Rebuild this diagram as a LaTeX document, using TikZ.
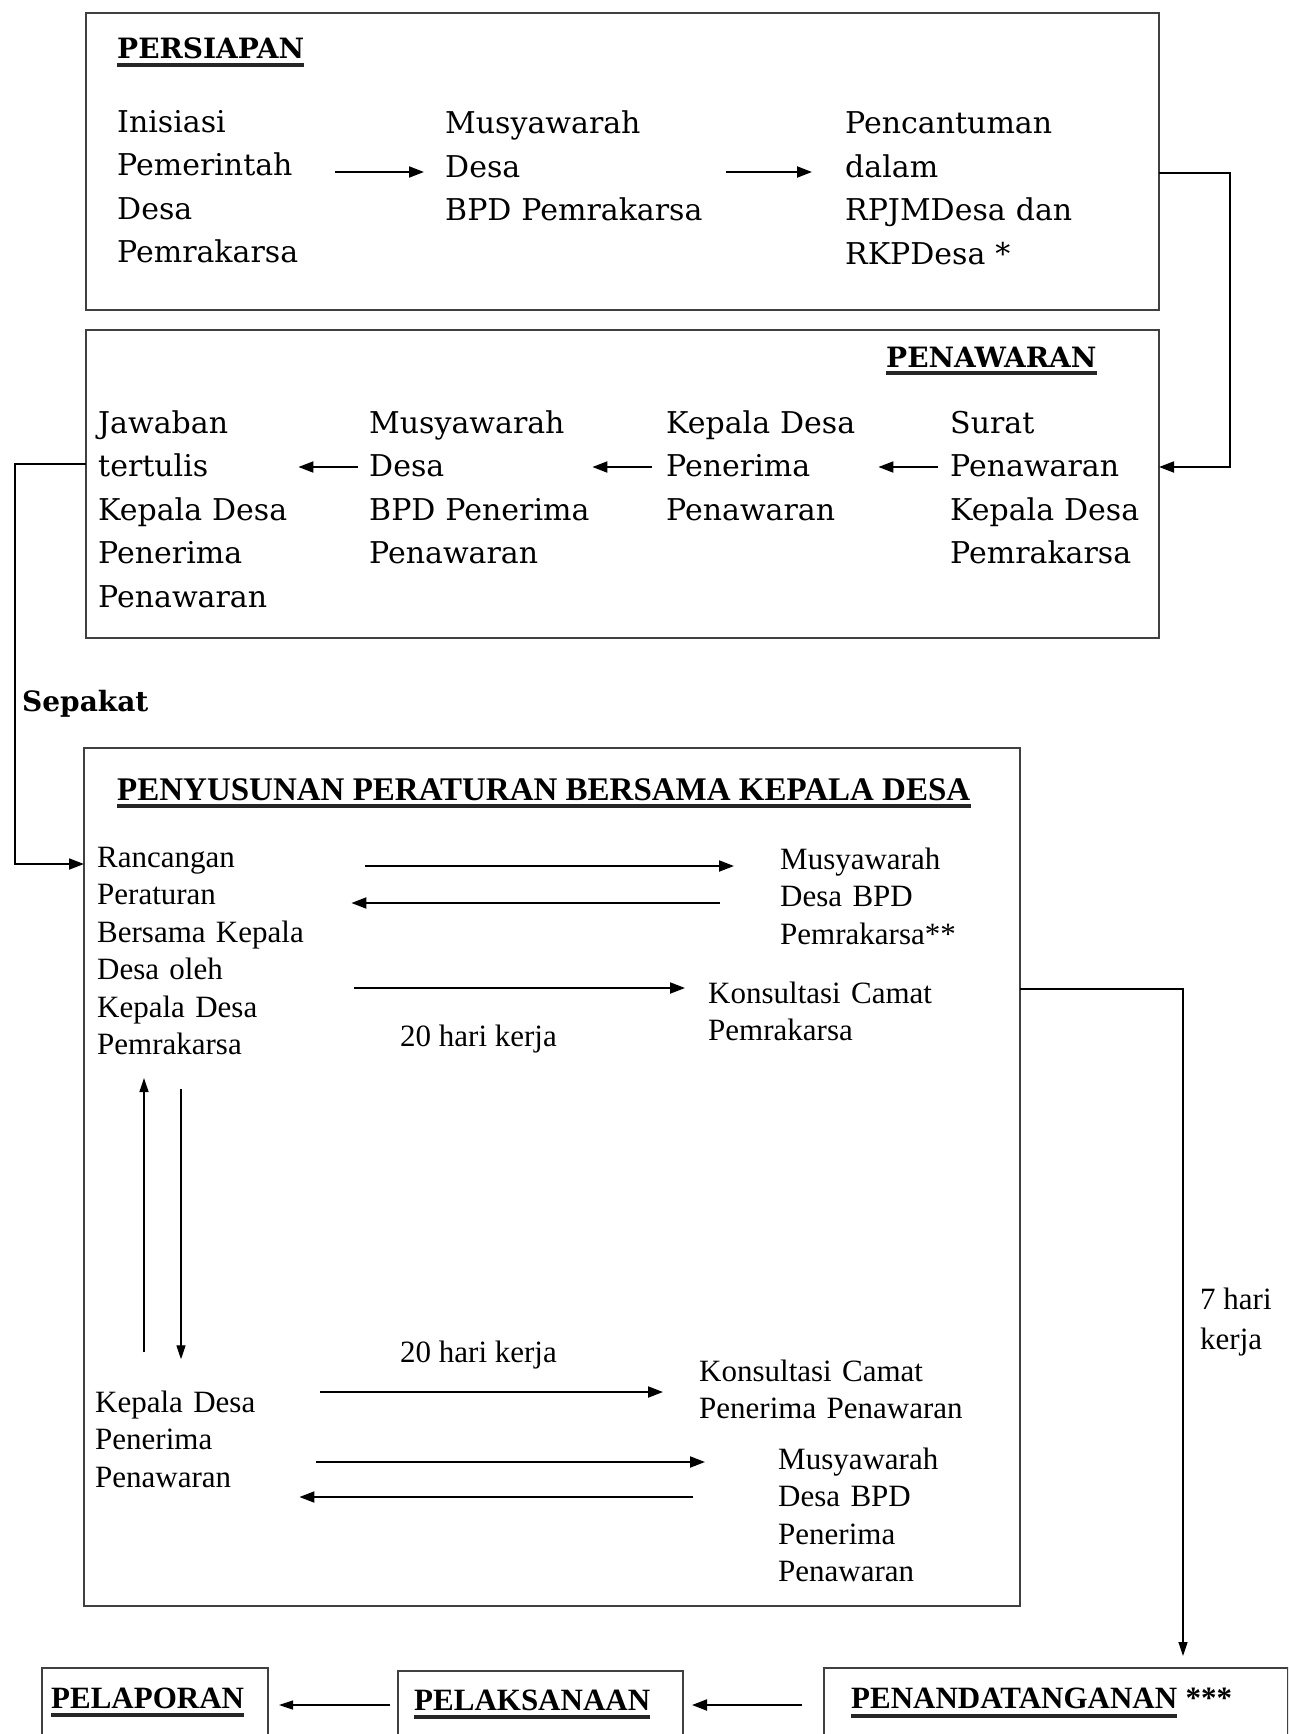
\documentclass[tikz,border=0pt]{standalone}
\usepackage{fontspec}
\setmainfont{Liberation Serif}
\newfontfamily\bk{DejaVu Serif}
\usetikzlibrary{arrows.meta}
\tikzset{
  frame/.style={draw=black!75, line width=2.5pt, inner sep=0pt, outer sep=0pt, anchor=north west},
  bktext/.style={font=\bk\fontsize{30}{43.5}\selectfont, anchor=base west, inner sep=0pt, align=left},
  bktitle/.style={font=\bk\bfseries\fontsize{28}{34}\selectfont, anchor=base west, inner sep=0pt},
  tmtext/.style={font=\fontsize{31}{37.5}\selectfont, anchor=base west, inner sep=0pt, align=left},
  tmtitle/.style={font=\bfseries\fontsize{31}{36}\selectfont, anchor=base west, inner sep=0pt},
  arr/.style={-{Triangle[length=15pt,width=11pt]}, line width=2pt},
  thinarr/.style={-{Triangle[length=14pt,width=9pt]}, line width=1.3pt},
  uline/.style={line width=3.5pt, black!85},
}
\begin{document}
\begin{tikzpicture}[x=1pt,y=-1pt]
\useasboundingbox (0,0) rectangle (1288,1734);
\clip (0,0) rectangle (1288,1734);
\fill[white] (0,0) rectangle (1288,1734);

% ---------- frames ----------
\node[frame, minimum width=1073pt, minimum height=297pt] (b1) at (86,13) {};
\node[frame, minimum width=1073pt, minimum height=308pt] (b2) at (86,330) {};
\node[frame, minimum width=936pt, minimum height=858pt] (b3) at (84,748) {};
\node[frame, minimum width=226pt, minimum height=120pt] (b4) at (42,1668) {};
\node[frame, minimum width=285pt, minimum height=120pt] (b5) at (398,1671) {};
\node[frame, minimum width=464pt, minimum height=120pt] (b6) at (824,1668) {};

% ---------- PERSIAPAN ----------
\node[bktitle] (t1) at (117,59) {PERSIAPAN};
\draw[uline] ([yshift=-6pt]t1.base west) -- ([yshift=-6pt]t1.base east);
\node[bktext, text width=200pt] (n11) at (117,132) {Inisiasi\\Pemerintah\\Desa\\Pemrakarsa};
\node[bktext, text width=275pt] (n12) at (445,134) {Musyawarah\\Desa\\BPD Pemrakarsa};
\node[bktext, text width=290pt] (n13) at (845,134) {Pencantuman\\dalam\\RPJMDesa dan\\RKPDesa *};
\coordinate (r11) at (0,172);
\draw[arr, shorten <=18pt, shorten >=21pt] (n11.east |- r11) -- (n12.west |- r11);
\draw[arr, shorten <=6pt, shorten >=33pt] (n12.east |- r11) -- (n13.west |- r11);

% ---------- PENAWARAN ----------
\node[bktitle] (t2) at (886,367) {PENAWARAN};
\draw[uline] ([yshift=-6pt]t2.base west) -- ([yshift=-6pt]t2.base east);
\node[bktext, text width=200pt] (n21) at (98,433) {Jawaban\\tertulis\\Kepala Desa\\Penerima\\Penawaran};
\node[bktext, text width=235pt] (n22) at (369,433) {Musyawarah\\Desa\\BPD Penerima\\Penawaran};
\node[bktext, text width=205pt] (n23) at (666,433) {Kepala Desa\\Penerima\\Penawaran};
\node[bktext, text width=200pt] (n24) at (950,433) {Surat\\Penawaran\\Kepala Desa\\Pemrakarsa};
\coordinate (r21) at (0,467);
\draw[arr, shorten <=11pt, shorten >=0pt] (n22.west |- r21) -- (n21.east |- r21);
\draw[arr, shorten <=14pt, shorten >=-12pt] (n23.west |- r21) -- (n22.east |- r21);
\draw[arr, shorten <=12pt, shorten >=7pt] (n24.west |- r21) -- (n23.east |- r21);

% ---------- connectors between frames ----------
\coordinate (k1) at (1230,173);
\coordinate (k2) at (1230,467);
\draw[arr, line width=1.8pt] (b1.east |- k1) -- (k1) -- (k2) -- (b2.east |- k2);
\coordinate (k3) at (15,464);
\coordinate (k4) at (15,864);
\draw[arr, line width=1.8pt] (b2.west |- k3) -- (k3) -- (k4) -- (b3.west |- k4);
\node[bktitle] (sep) at (22,711) {Sepakat};

% ---------- PENYUSUNAN ----------
\node[tmtitle, font=\bfseries\fontsize{33}{38}\selectfont] (t3) at (117,800) {PENYUSUNAN PERATURAN BERSAMA KEPALA DESA};
\draw[uline] ([yshift=-6pt]t3.base west) -- ([yshift=-6pt]t3.base east);

\node[tmtext, text width=220pt] (n31) at (97,867) {Rancangan\\Peraturan\\Bersama Kepala\\Desa oleh\\Kepala Desa\\Pemrakarsa};
\node[tmtext, text width=220pt] (n32) at (780,869) {Musyawarah\\Desa BPD\\Pemrakarsa**};
\node[tmtext, text width=280pt] (n33) at (708,1003) {Konsultasi Camat\\Pemrakarsa};
\node[tmtext] (l31) at (400,1046) {20 hari kerja};
\coordinate (r31) at (0,866);
\coordinate (r32) at (0,903);
\coordinate (r33) at (0,988);
\draw[arr, shorten <=48pt, shorten >=46pt] (n31.east |- r31) -- (n32.west |- r31);
\draw[arr, shorten <=60pt, shorten >=34pt] (n32.west |- r32) -- (n31.east |- r32);
\draw[arr, shorten <=37pt, shorten >=23pt] (n31.east |- r33) -- (n33.west |- r33);

\node[tmtext, text width=170pt] (n34) at (95,1412) {Kepala Desa\\Penerima\\Penawaran};
\node[tmtext] (l32) at (400,1362) {20 hari kerja};
\node[tmtext, text width=320pt] (n35) at (699,1381) {Konsultasi Camat\\Penerima Penawaran};
\node[tmtext, text width=220pt] (n36) at (778,1469) {Musyawarah\\Desa BPD\\Penerima\\Penawaran};

\coordinate (v1) at (144,0);
\coordinate (v2) at (181,0);
\draw[thinarr, shorten <=38pt, shorten >=23pt] (n34.north -| v1) -- (n31.south -| v1);
\draw[thinarr, shorten <=34pt, shorten >=31pt] (n31.south -| v2) -- (n34.north -| v2);

\coordinate (r34) at (0,1392);
\coordinate (r35) at (0,1462);
\coordinate (r36) at (0,1497);
\draw[arr, shorten <=55pt, shorten >=36pt] (n34.east |- r34) -- (n35.west |- r34);
\draw[arr, shorten <=51pt, shorten >=73pt] (n34.east |- r35) -- (n36.west |- r35);
\draw[arr, shorten <=85pt, shorten >=34pt] (n36.west |- r36) -- (n34.east |- r36);

% ---------- to signing ----------
\coordinate (k5) at (1183,989);
\draw[thinarr, shorten >=12pt] (b3.east |- k5) -- (k5) -- (b6.north -| k5);
\node[tmtext, font=\fontsize{31}{40}\selectfont] (l7) at (1200,1349) {7 hari\\kerja};

% ---------- bottom boxes ----------
\node[tmtitle] (p1) at (51,1708) {PELAPORAN};
\draw[uline] ([yshift=-7pt]p1.base west) -- ([yshift=-7pt]p1.base east);
\node[tmtitle] (p2) at (414,1710) {PELAKSANAAN};
\draw[uline] ([yshift=-7pt]p2.base west) -- ([yshift=-7pt]p2.base east);
\node[tmtitle] (p3) at (851,1708) {PENANDATANGANAN};
\draw[uline] ([yshift=-8pt]p3.base west) -- ([yshift=-8pt]p3.base east);
\node[tmtitle, anchor=base west] (p3s) at ([xshift=8pt]p3.base east) {***};

\coordinate (k6) at (0,1705);
\draw[arr, shorten <=22pt, shorten >=9pt] (b6.west |- k6) -- (b5.east |- k6);
\draw[thinarr, shorten <=8pt, shorten >=11pt] (b5.west |- k6) -- (b4.east |- k6);
\end{tikzpicture}
\end{document}
